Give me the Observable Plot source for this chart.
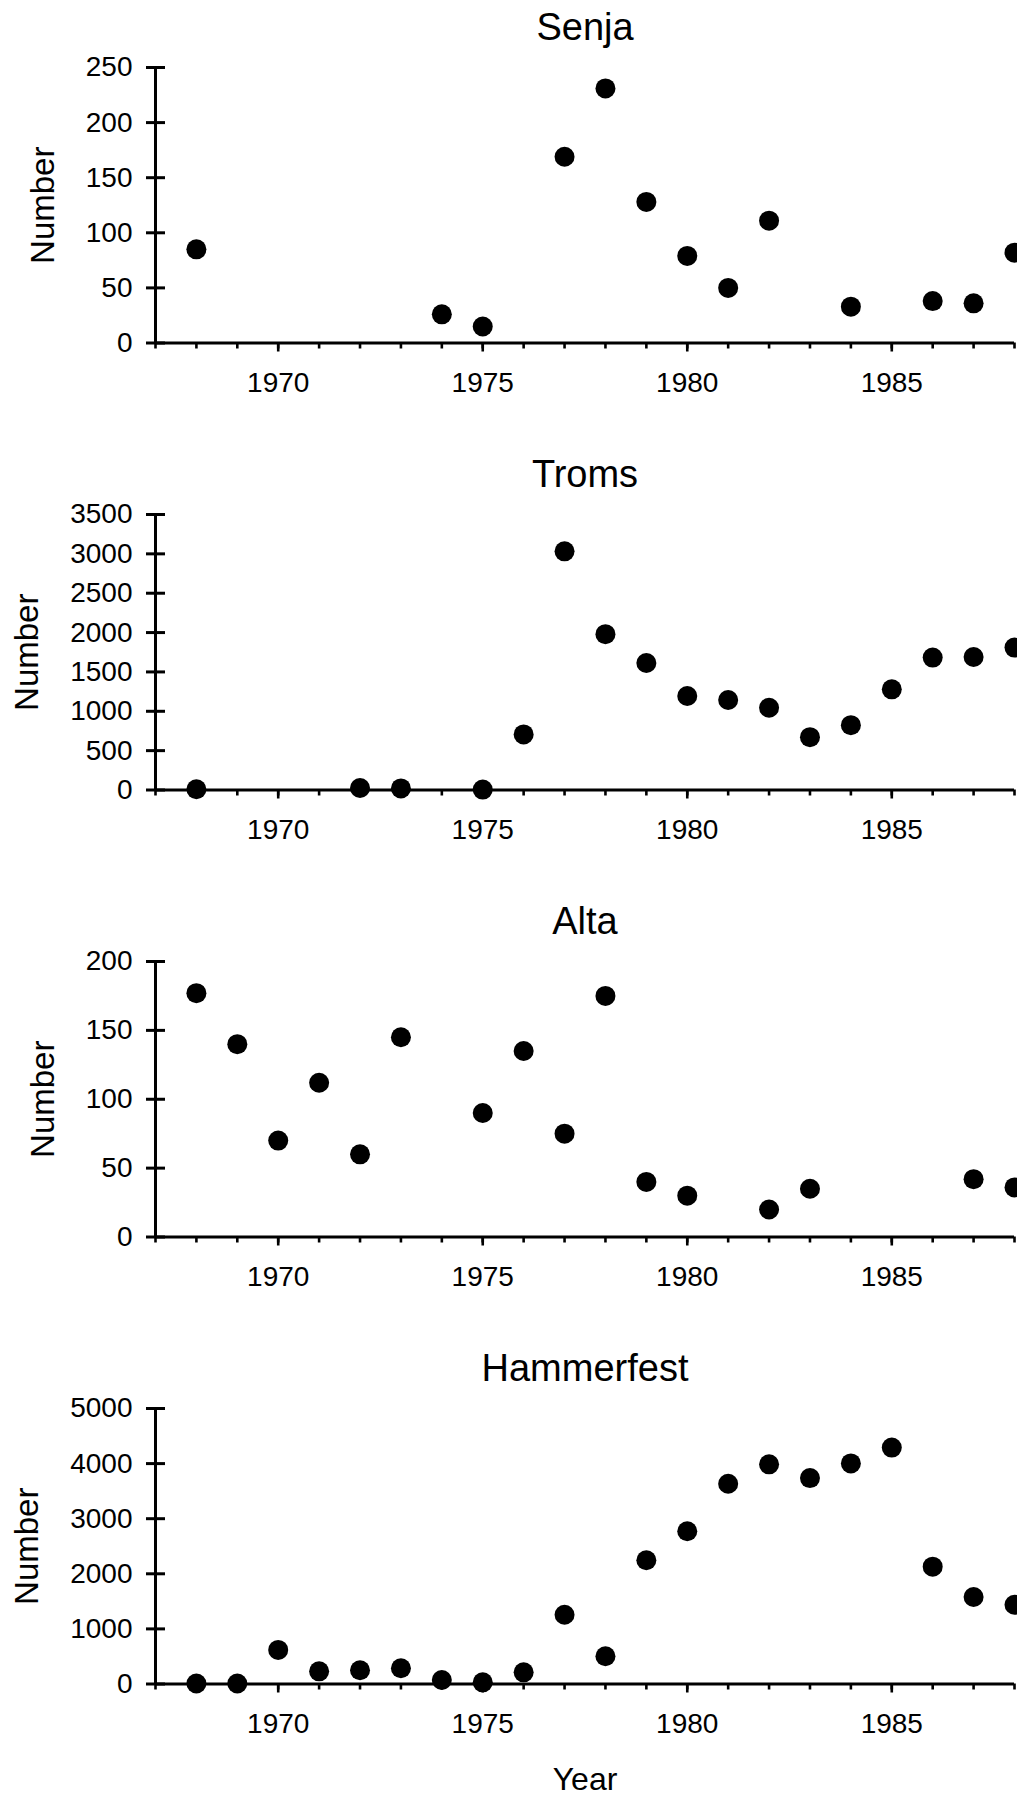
<!DOCTYPE html>
<html>
<head>
<meta charset="utf-8">
<script src="https://cdn.jsdelivr.net/npm/d3@7"></script>
<script src="https://cdn.jsdelivr.net/npm/@observablehq/plot@0.6"></script>
<style>
  html, body { margin: 0; padding: 0; background: #fff; overflow: hidden; }
  #chart svg { display: block; }
  g[aria-label="ylabel"] text { letter-spacing: 1px; }
</style>
</head>
<body>
<div id="chart"></div>
<script>
// ---- Data ----
const panelTitles = ["Senja", "Troms", "Alta", "Hammerfest"];

const senjaYears  = [1968, 1974, 1975, 1977, 1978, 1979, 1980, 1981, 1982, 1984, 1986, 1987, 1988];
const senjaValues = [85, 26, 15, 169, 231, 128, 79, 50, 111, 33, 38, 36, 82];

const tromsYears  = [1968, 1972, 1973, 1975, 1976, 1977, 1978, 1979, 1980, 1981, 1982, 1983, 1984, 1985, 1986, 1987, 1988];
const tromsValues = [10, 25, 20, 5, 706, 3032, 1980, 1614, 1194, 1143, 1045, 671, 824, 1279, 1682, 1690, 1809];

const altaYears  = [1968, 1969, 1970, 1971, 1972, 1973, 1975, 1976, 1977, 1978, 1979, 1980, 1982, 1983, 1987, 1988];
const altaValues = [177, 140, 70, 112, 60, 145, 90, 135, 75, 175, 40, 30, 20, 35, 42, 36];

const hammerfestYears  = [1968, 1969, 1970, 1971, 1972, 1973, 1974, 1975, 1976, 1977, 1978, 1979, 1980, 1981, 1982, 1983, 1984, 1985, 1986, 1987, 1988];
const hammerfestValues = [10, 10, 619, 230, 249, 285, 73, 30, 212, 1256, 504, 2245, 2773, 3634, 3986, 3737, 4004, 4290, 2130, 1578, 1438];

const senjaTicks      = [0, 50, 100, 150, 200, 250];
const tromsTicks      = [0, 500, 1000, 1500, 2000, 2500, 3000, 3500];
const altaTicks       = [0, 50, 100, 150, 200];
const hammerfestTicks = [0, 1000, 2000, 3000, 4000, 5000];

const xDomain = [1967, 1988];
const xMajorTicks = [1970, 1975, 1980, 1985];
const xMinorTicks = [1967, 1968, 1969, 1970, 1971, 1972, 1973, 1974, 1975, 1976, 1977,
                     1978, 1979, 1980, 1981, 1982, 1983, 1984, 1985, 1986, 1987, 1988];

const yLabel = "Number";
const xLabel = "Year";

// ---- Build panels ----
const panelYears  = [senjaYears, tromsYears, altaYears, hammerfestYears];
const panelValues = [senjaValues, tromsValues, altaValues, hammerfestValues];
const panelTicks  = [senjaTicks, tromsTicks, altaTicks, hammerfestTicks];

const FONT = "'Liberation Sans', Arial, Helvetica, sans-serif";
const W = 1017, ML = 155, MR = 3, MT = 67;
const frameW = W - ML - MR;

const chart = document.getElementById("chart");

panelTitles.forEach((title, i) => {
  const last = i === panelTitles.length - 1;
  const H = last ? 457 : 447;
  const MB = H - 342.5;
  const data = panelYears[i].map((y, j) => ({year: y, value: panelValues[i][j]}));
  const ticks = panelTicks[i];
  const yMax = ticks[ticks.length - 1];
  const wideTicks = String(yMax).length >= 4;

  const marks = [
    // y axis line
    Plot.ruleX([xDomain[0]], {stroke: "black", strokeWidth: 3}),
    // x axis line
    Plot.ruleY([0], {stroke: "black", strokeWidth: 3}),
    // y tick marks crossing the axis
    Plot.tickY(ticks, {y: d => d, stroke: "black", strokeWidth: 3, dx: -9, insetRight: frameW - 19}),
    // y tick labels
    Plot.axisY({ticks, tickSize: 0, tickPadding: 23, tickFormat: d3.format("d"),
                fontSize: 28, label: null}),
    // x minor ticks
    Plot.axisX({ticks: xMinorTicks, tickSize: 6, tickFormat: () => "", strokeWidth: 2.6, label: null}),
    // x major ticks + labels
    Plot.axisX({ticks: xMajorTicks, tickSize: 9, tickPadding: 20, tickFormat: d3.format("d"),
                strokeWidth: 2.6, fontSize: 28, label: null}),
    // dots
    Plot.dot(data, {x: "year", y: "value", r: 10, fill: "black", stroke: null}),
    // panel title
    Plot.text([title], {frameAnchor: "top", dy: -40, fontSize: 38, fill: "black", lineAnchor: "middle"}),
    // y label
    Plot.text([yLabel], {frameAnchor: "left", rotate: -90, dx: wideTicks ? -128 : -112,
                         textAnchor: "middle", lineAnchor: "middle",
                         fontSize: 33, fill: "black", ariaLabel: "ylabel"})
  ];
  if (last) {
    marks.push(Plot.text([xLabel], {frameAnchor: "bottom", dy: 96, lineAnchor: "middle",
                                    fontSize: 32, fill: "black"}));
  }

  const svg = Plot.plot({
    width: W,
    height: H,
    marginLeft: ML,
    marginRight: MR,
    marginTop: MT,
    marginBottom: MB,
    x: {domain: xDomain, axis: null},
    y: {domain: [0, yMax], axis: null},
    style: {fontFamily: FONT, fontSize: "28px", color: "black", background: "white", overflow: "hidden"},
    marks
  });
  chart.appendChild(svg);
});
</script>
</body>
</html>
